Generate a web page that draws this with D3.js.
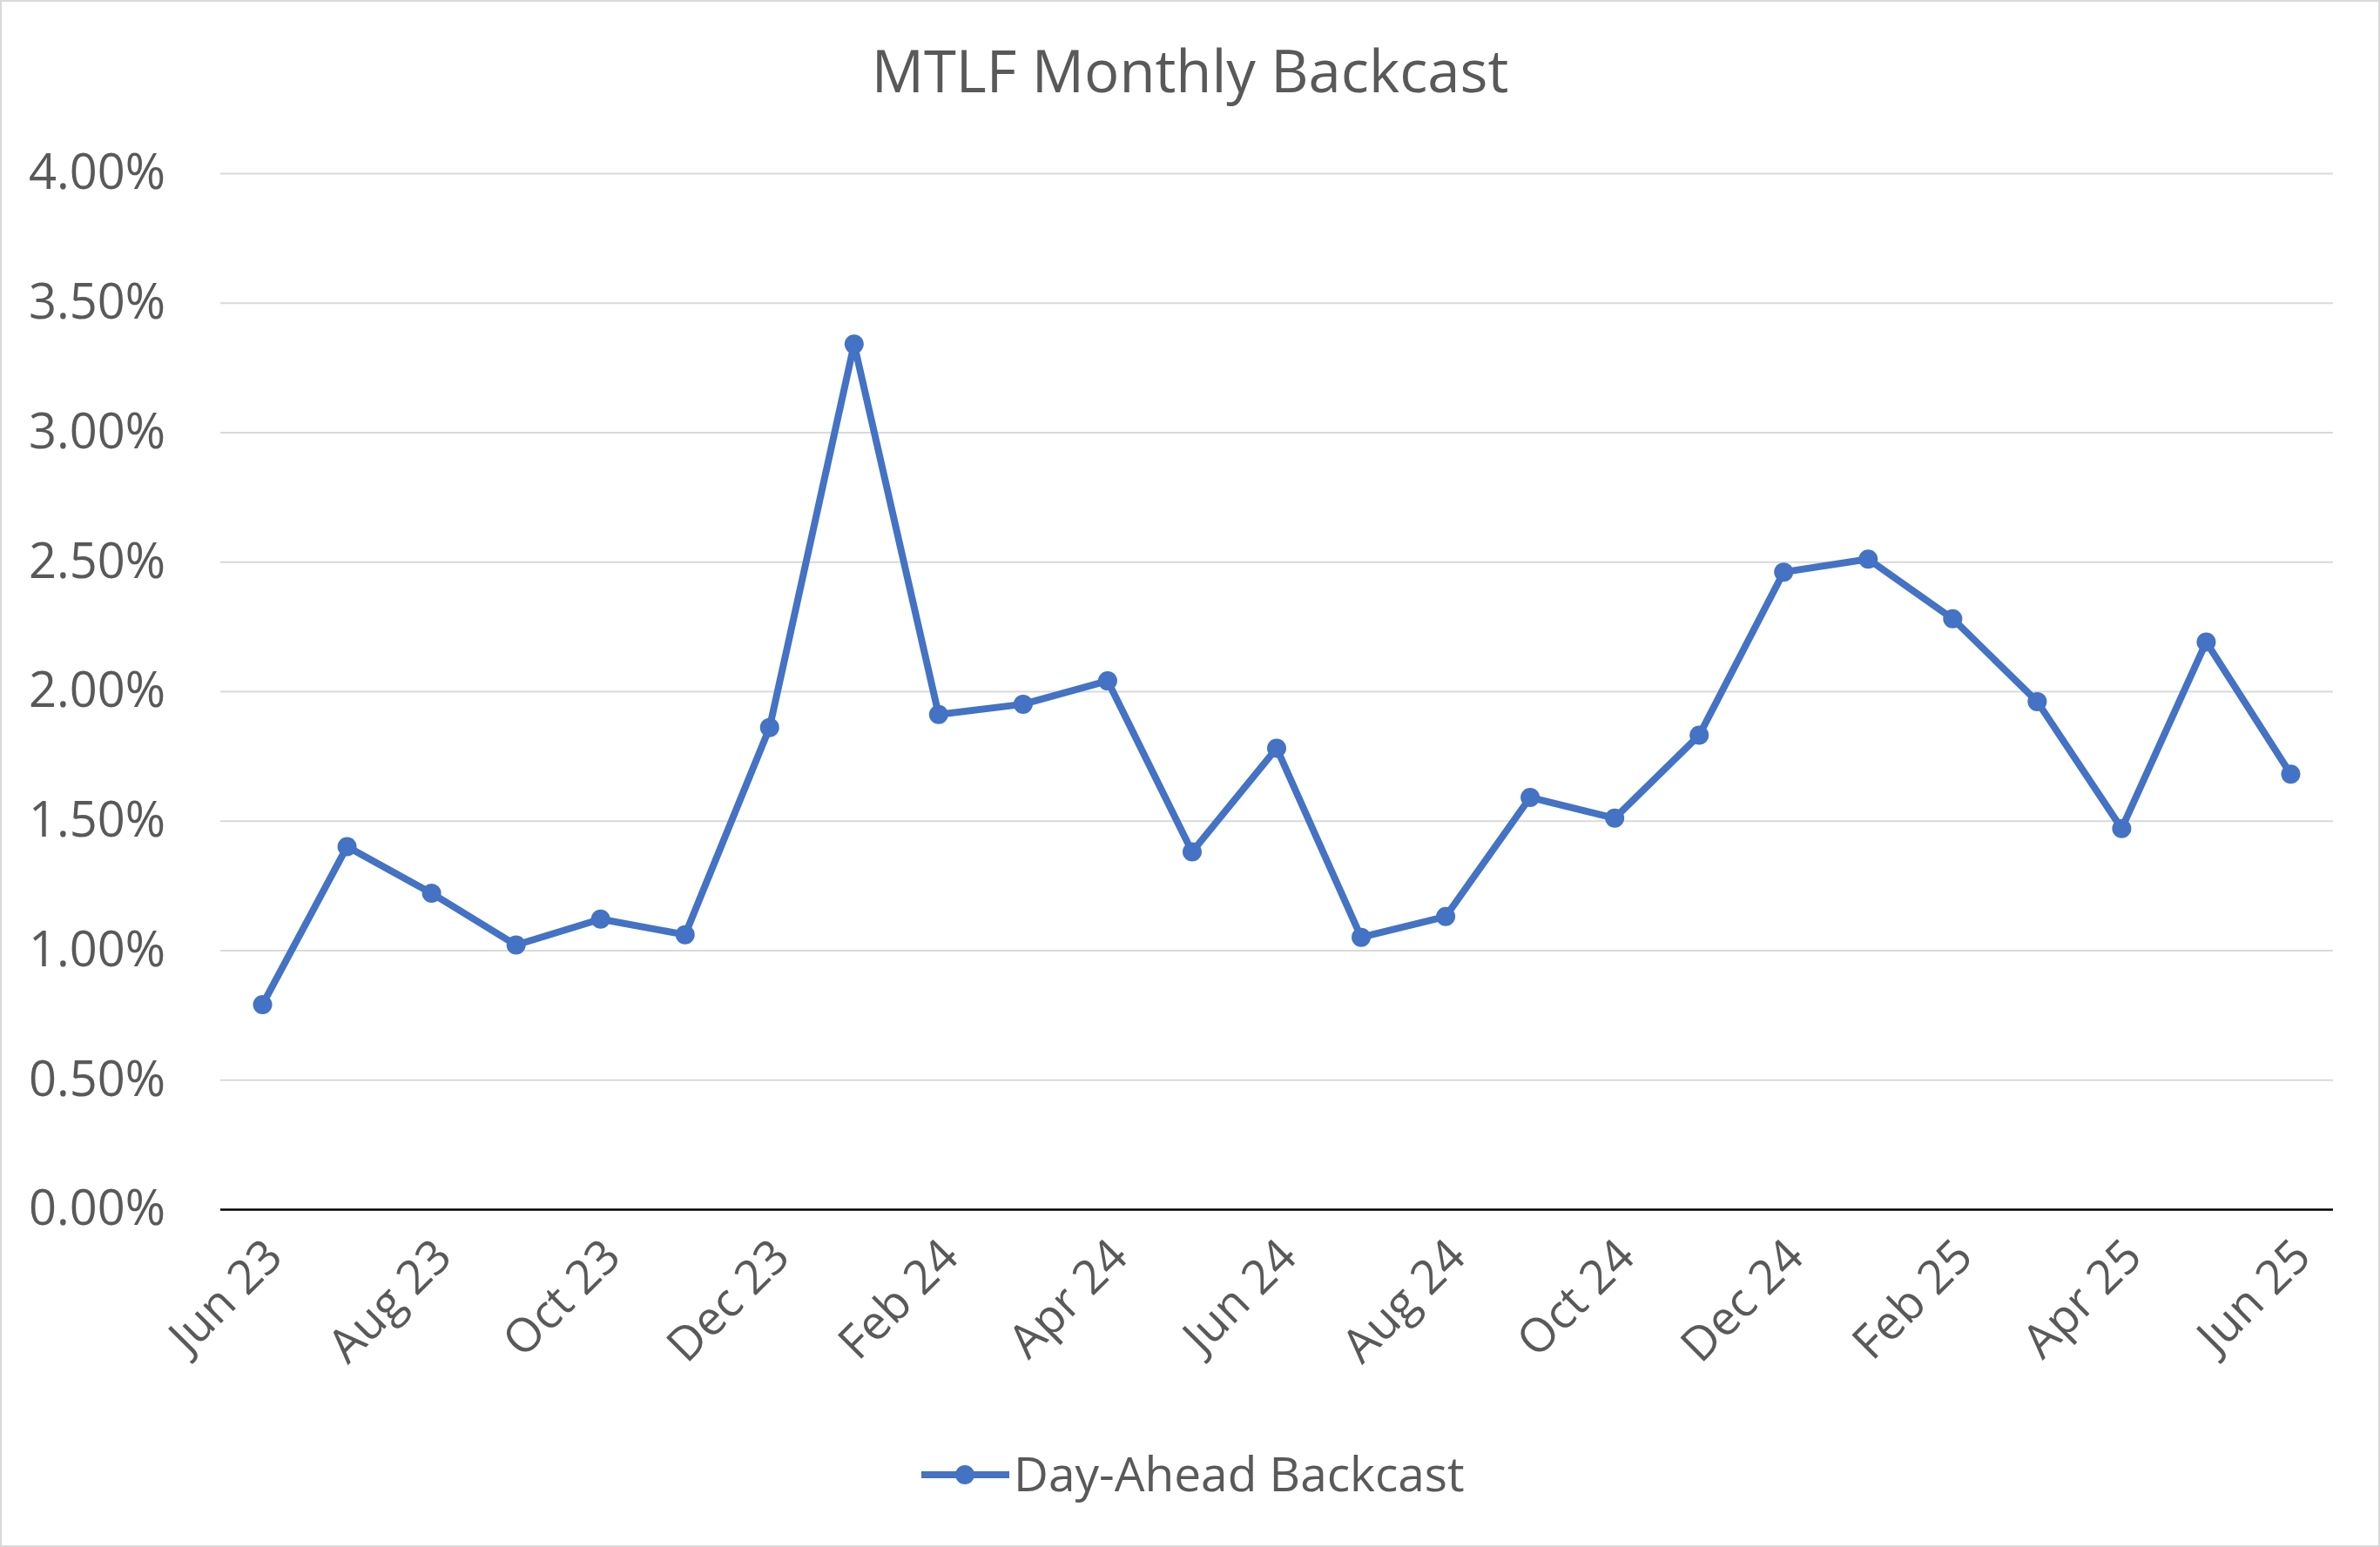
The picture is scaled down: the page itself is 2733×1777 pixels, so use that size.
<!DOCTYPE html>
<html><head><meta charset="utf-8">
<script src="https://cdn.jsdelivr.net/npm/d3@7"></script>
<style>body{margin:0;background:#fff}</style>
</head><body>
<script>
const months = ["Jun 23","Jul 23","Aug 23","Sep 23","Oct 23","Nov 23","Dec 23","Jan 24","Feb 24","Mar 24","Apr 24","May 24","Jun 24","Jul 24","Aug 24","Sep 24","Oct 24","Nov 24","Dec 24","Jan 25","Feb 25","Mar 25","Apr 25","May 25","Jun 25"];
const values = [0.79,1.40,1.22,1.02,1.12,1.06,1.86,3.34,1.91,1.95,2.04,1.38,1.78,1.05,1.13,1.59,1.51,1.83,2.46,2.51,2.28,1.96,1.47,2.19,1.68];
const yTicks = [0,0.5,1,1.5,2,2.5,3,3.5,4];
const seriesName = "Day-Ahead Backcast";

const W=2733,H=1777, L=253, R=2679, T=199, B=1389;
const font="'Open Sans', sans-serif", grey="#595959", blue="#4472C4";
const svg=d3.select("body").append("svg").attr("width",W).attr("height",H);
svg.append("rect").attr("x",1).attr("y",1).attr("width",W-2).attr("height",H-2).attr("fill","#fff").attr("stroke","#d9d9d9").attr("stroke-width",2);
const x=d3.scalePoint().domain(months).range([L,R]).padding(0.5);
const y=d3.scaleLinear().domain([0,4]).range([B,T]);

svg.append("text").attr("x",W/2).attr("y",106).attr("text-anchor","middle")
 .attr("font-family",font).attr("font-size",67).attr("fill",grey).text("MTLF Monthly Backcast");

const ya=svg.append("g").attr("transform",`translate(${L},0)`)
 .call(d3.axisLeft(y).tickValues(yTicks).tickSize(-(R-L)).tickFormat(d=>d.toFixed(2)+"%"));
ya.select(".domain").remove();
ya.selectAll(".tick line").attr("stroke",d=>d===0?"#000":"#d9d9d9").attr("stroke-width",d=>d===0?2.5:2);
ya.selectAll(".tick text").attr("font-family",font).attr("font-size",56).attr("fill",grey).attr("x",-63);

const xa=svg.append("g").attr("transform",`translate(0,${B})`)
 .call(d3.axisBottom(x).tickValues(months.filter((d,i)=>i%2===0)).tickSize(0));
xa.select(".domain").remove();
xa.selectAll(".tick text").attr("font-family",font).attr("font-size",54).attr("fill",grey)
 .attr("text-anchor","end").attr("transform","translate(12,44) rotate(-45)").attr("dy","0.35em").attr("y",0).attr("x",0);

const line=d3.line().x((d,i)=>x(months[i])).y(d=>y(d));
svg.append("path").datum(values).attr("d",line).attr("fill","none").attr("stroke",blue).attr("stroke-width",8).attr("stroke-linejoin","round");
svg.selectAll("circle.p").data(values).join("circle").attr("class","p")
 .attr("cx",(d,i)=>x(months[i])).attr("cy",d=>y(d)).attr("r",11).attr("fill",blue);

const lg=svg.append("g");
lg.append("line").attr("x1",1058).attr("x2",1159).attr("y1",1694).attr("y2",1694).attr("stroke",blue).attr("stroke-width",8);
lg.append("circle").attr("cx",1108).attr("cy",1694).attr("r",11).attr("fill",blue);
lg.append("text").attr("x",1164).attr("y",1694).attr("dy","0.35em").attr("font-family",font).attr("font-size",55).attr("fill",grey).text(seriesName);
</script>
</body></html>
